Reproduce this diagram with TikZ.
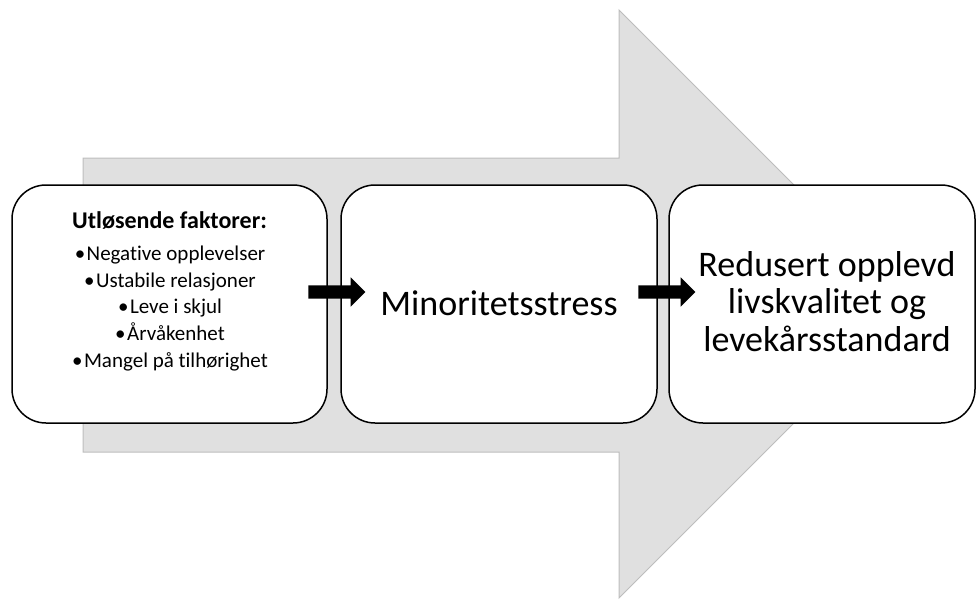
\documentclass[tikz,border=0pt]{standalone}
\usepackage{fontspec}
\setmainfont{Carlito}[Ligatures=NoCommon]
\usetikzlibrary{shapes.arrows}
\definecolor{arrowgray}{HTML}{E0E0E0}
\definecolor{arrowedge}{HTML}{BDBDBD}
\begin{document}
\begin{tikzpicture}[x=1pt,y=-1pt,
  bigarrow/.style={fill=arrowgray, draw=arrowedge, line width=1pt, line join=miter},
  stepbox/.style={draw=black, fill=white, line width=1.5pt, rounded corners=34pt,
    minimum height=238pt, inner sep=0pt, outer sep=0pt},
  blockarrow/.style={single arrow, fill=black, draw=none, inner sep=0pt, outer sep=0pt,
    text height=6.5pt, text depth=6.5pt, minimum height=57pt,
    single arrow head extend=8pt, single arrow head indent=0pt},
  smalltxt/.style={anchor=base, inner sep=0pt, font=\fontsize{21}{25}\selectfont},
  titletxt/.style={anchor=base, inner sep=0pt, font=\fontsize{24}{29}\bfseries},
  bigtxt/.style={anchor=base, inner sep=0pt, font=\fontsize{36}{40}\selectfont}
]
\useasboundingbox (0,0) rectangle (976,599);
% big background arrow
\draw[bigarrow] (83,158) -- (619,158) -- (619,10) -- (913,304) -- (619,598) -- (619,452) -- (83,452) -- cycle;
% boxes
\node[stepbox, minimum width=315pt] (b1) at (169.5,304) {};
\node[stepbox, minimum width=316pt] (b2) at (499,304) {};
\node[stepbox, minimum width=306pt] (b3) at (822,304) {};
% small arrows
\node[blockarrow] (ar1) at (333.5,292) {};
\node[blockarrow] (ar2) at (663.5,292) {};
% box 1 text
\node[titletxt] (t0) at (169.5,228) {Utløsende faktorer:};
\node[smalltxt] (t1) at (170,260) {•\hspace{1.5pt}Negative opplevelser};
\node[smalltxt] (t2) at (170,287) {•\hspace{1.5pt}Ustabile relasjoner};
\node[smalltxt] (t3) at (170,313) {•\hspace{1.5pt}Leve i skjul};
\node[smalltxt] (t4) at (170,340) {•\hspace{1.5pt}Årvåkenhet};
\node[smalltxt] (t5) at (170,367) {•\hspace{1.5pt}Mangel på tilhørighet};
% box 2 text
\node[bigtxt] (m) at (499,315) {Minoritetsstress};
% box 3 text
\node[bigtxt] (r1) at (827,276) {Redusert opplevd};
\node[bigtxt] (r2) at (827,313.5) {livskvalitet og};
\node[bigtxt] (r3) at (827,351) {levekårsstandard};
\end{tikzpicture}
\end{document}
